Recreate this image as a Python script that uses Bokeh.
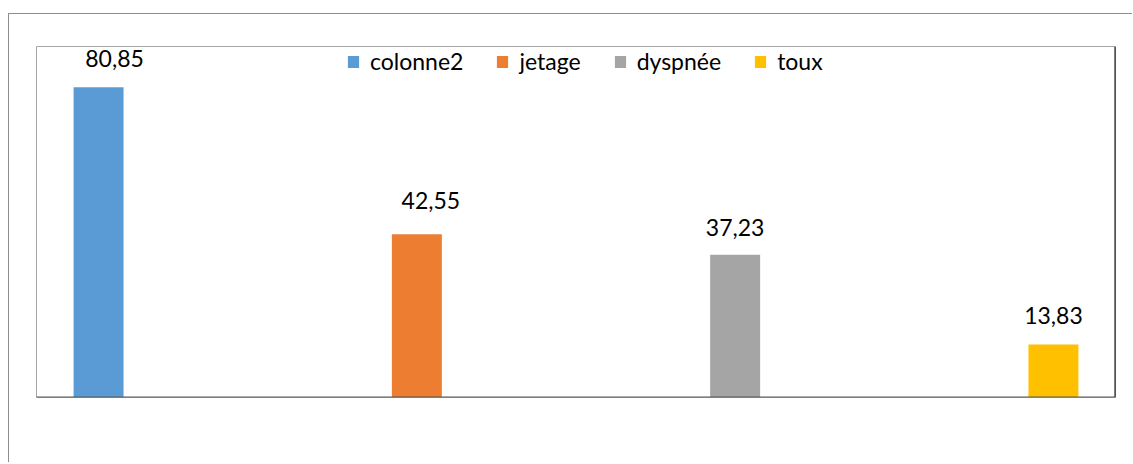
from bokeh.plotting import figure
from bokeh.models import (ColumnDataSource, Range1d, LabelSet, Legend, LegendItem, Span)
from bokeh.core.properties import value
from bokeh.embed import file_html
from bokeh.resources import INLINE

# ---- data ----
series = ["colonne2", "jetage", "dyspnée", "toux"]
values = [80.85, 42.55, 37.23, 13.83]
colors = ["#5B9BD5", "#ED7D31", "#A5A5A5", "#FFC000"]

# ---- label nudges (style) ----
label_dx = [16, 14, 0, 0]
label_dy = [20, 25, 19, 20]

FONT = "Lato"

xs = list(range(len(series)))
labels = [f"{v:.2f}".replace(".", ",") for v in values]
src = ColumnDataSource(dict(x=xs, top=values, color=colors, name=series,
                            label=labels, dx=label_dx, dy=label_dy))

p = figure(width=1124, height=449,
           x_range=Range1d(-0.195, len(series) - 1 + 0.195),
           y_range=Range1d(0, 91.5),
           output_backend="svg", toolbar_location=None,
           min_border_left=27, min_border_right=18,
           min_border_top=32, min_border_bottom=66)
p.styles = {"border-top": "1px solid #8c8c8c", "border-left": "1px solid #8c8c8c",
            "margin-top": "13px", "margin-left": "8px"}
p.axis.visible = False
p.grid.visible = False
p.outline_line_color = "#a6a6a6"
p.outline_line_width = 1
p.background_fill_color = "white"
p.border_fill_color = "white"

r = p.vbar(x="x", top="top", width=0.157, fill_color="color", line_color="color",
           line_width=0, source=src)

p.add_layout(Span(location=p.x_range.end, dimension="height",
                  line_color="black", line_width=2))
p.add_layout(Span(location=0, dimension="width",
                  line_color="#595959", line_width=2))

ls = LabelSet(x="x", y="top", text="label", source=src,
              x_offset="dx", y_offset="dy",
              text_align="center", text_baseline="alphabetic",
              text_font=value(FONT), text_font_size="23px", text_color="black")
p.add_layout(ls)

items = [LegendItem(label=s, renderers=[r], index=i) for i, s in enumerate(series)]
legend = Legend(items=items, orientation="horizontal",
                location=(310, 322),
                label_text_font=FONT, label_text_font_size="23px",
                label_text_color="black",
                glyph_width=14, glyph_height=15, label_standoff=10,
                spacing=32, padding=0, margin=0,
                border_line_color=None, background_fill_alpha=0)
p.add_layout(legend)

open("out.html", "w").write(file_html(p, INLINE))
